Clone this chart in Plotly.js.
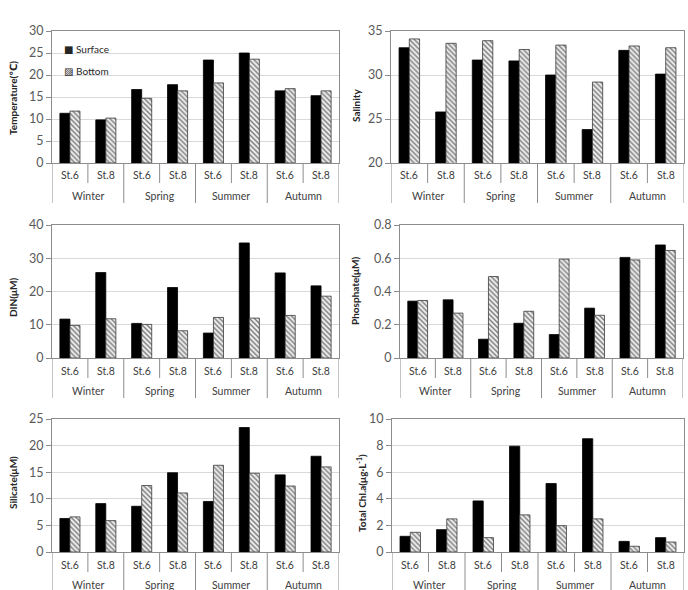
<!DOCTYPE html>
<html>
<head>
<meta charset="utf-8">
<script src="https://cdn.plot.ly/plotly-3.0.1.min.js"></script>
<style>
  html, body { margin: 0; padding: 0; background: #fff; }
  #chart { width: 688px; height: 590px; }
</style>
</head>
<body>
<div id="chart"></div>
<script>
// Station / season categories (St.6, St.8 for each season)
const seasons = ["Winter", "Spring", "Summer", "Autumn"];
const stations = ["St.6", "St.8", "St.6", "St.8", "St.6", "St.8", "St.6", "St.8"];
const seriesNames = ["Surface", "Bottom"];

// Water temperature (℃)
const tempSurface = [11.3, 9.8, 16.7, 17.8, 23.4, 25.0, 16.4, 15.3];
const tempBottom  = [11.8, 10.2, 14.7, 16.4, 18.2, 23.6, 16.9, 16.4];

// Salinity
const salSurface = [33.1, 25.8, 31.7, 31.6, 30.0, 23.8, 32.8, 30.1];
const salBottom  = [34.1, 33.6, 33.9, 32.9, 33.4, 29.2, 33.3, 33.1];

// Dissolved inorganic nitrogen (μM)
const dinSurface = [11.7, 25.7, 10.4, 21.2, 7.5, 34.6, 25.6, 21.7];
const dinBottom  = [9.8, 11.8, 10.1, 8.2, 12.2, 12.0, 12.8, 18.6];

// Phosphate (μM)
const phoSurface = [0.342, 0.350, 0.113, 0.209, 0.141, 0.300, 0.605, 0.680];
const phoBottom  = [0.346, 0.270, 0.490, 0.281, 0.595, 0.257, 0.590, 0.647];

// Silicate (μM)
const silSurface = [6.3, 9.1, 8.6, 14.9, 9.5, 23.4, 14.5, 18.0];
const silBottom  = [6.6, 5.9, 12.5, 11.1, 16.3, 14.8, 12.4, 16.0];

// Total chlorophyll a (μg·L⁻¹)
const chlSurface = [1.18, 1.68, 3.84, 7.96, 5.15, 8.52, 0.80, 1.08];
const chlBottom  = [1.48, 2.49, 1.08, 2.79, 1.98, 2.49, 0.43, 0.75];

// ---- layout helpers (pixel -> paper) ----
const W = 688, H = 590;
const px = x => x / W;
const py = y => 1 - y / H;

const FONT = "Lato, 'Open Sans', 'DejaVu Sans', sans-serif";
const AXIS_GRAY = "#8c8c8c";

const panels = [
  { surface: tempSurface, bottom: tempBottom, range: [0, 30], dtick: 5,
    title: "Temperature(℃)", box: [52, 339, 31, 163], titlePos: [13, 98], legend: true },
  { surface: salSurface, bottom: salBottom, range: [20, 35], dtick: 5,
    title: "Salinity", box: [391, 684, 31, 163], titlePos: [356, 106] },
  { surface: dinSurface, bottom: dinBottom, range: [0, 40], dtick: 10,
    title: "DIN(μM)", box: [52, 339, 225, 358], titlePos: [13, 297] },
  { surface: phoSurface, bottom: phoBottom, range: [0, 0.8], dtick: 0.2,
    title: "Phosphate(μM)", box: [400, 683, 225, 358], titlePos: [355, 291] },
  { surface: silSurface, bottom: silBottom, range: [0, 25], dtick: 5,
    title: "Silicate(μM)", box: [52, 339, 419, 552], titlePos: [13, 483] },
  { surface: chlSurface, bottom: chlBottom, range: [0, 10], dtick: 2,
    title: "Total Chl.a(μg·L<sup>-1</sup>)", box: [392, 684, 419, 552], titlePos: [361, 493] }
];

const xIdx = stations.map((_, i) => i);
const traces = [];
const layout = {
  width: W, height: H,
  margin: { l: 0, r: 0, t: 0, b: 0 },
  paper_bgcolor: "#ffffff",
  plot_bgcolor: "#ffffff",
  showlegend: false,
  barmode: "group",
  bargap: 0.44,
  bargroupgap: 0,
  font: { family: FONT, color: "#404040" },
  annotations: [],
  shapes: []
};

panels.forEach((p, k) => {
  const n = k + 1;
  const xa = "x" + (n === 1 ? "" : n);
  const ya = "y" + (n === 1 ? "" : n);
  const [x0, x1, yTop, yBot] = p.box;

  traces.push({
    type: "bar", name: seriesNames[0], x: xIdx, y: p.surface,
    xaxis: xa, yaxis: ya,
    marker: { color: "#000000", line: { color: "#000000", width: 0.8 } },
    hoverinfo: "y"
  });
  traces.push({
    type: "bar", name: seriesNames[1], x: xIdx, y: p.bottom,
    xaxis: xa, yaxis: ya,
    marker: {
      color: "#e6e6e6",
      line: { color: "#3a3a3a", width: 0.8 },
      pattern: { shape: "\\", fgcolor: "#7a7a7a", bgcolor: "#efefef", size: 3.5, solidity: 0.4 }
    },
    hoverinfo: "y"
  });

  layout["xaxis" + (n === 1 ? "" : n)] = {
    domain: [px(x0), px(x1)],
    anchor: ya,
    range: [-0.5, stations.length - 0.5],
    showticklabels: false,
    ticks: "",
    showgrid: false,
    zeroline: false,
    showline: true, mirror: true,
    linecolor: AXIS_GRAY, linewidth: 1,
    fixedrange: true
  };
  layout["yaxis" + (n === 1 ? "" : n)] = {
    domain: [py(yBot), py(yTop)],
    anchor: xa,
    range: p.range,
    dtick: p.dtick,
    tick0: p.range[0],
    ticks: "outside", ticklen: 5, tickwidth: 1, tickcolor: AXIS_GRAY,
    tickfont: { family: FONT, size: 12.5, color: "#595959" },
    showgrid: true, gridcolor: "#d9d9d9", gridwidth: 1,
    zeroline: false,
    showline: true, mirror: true,
    linecolor: AXIS_GRAY, linewidth: 1,
    fixedrange: true
  };

  // axis title (rotated)
  layout.annotations.push({
    text: "<b>" + p.title + "</b>",
    xref: "paper", yref: "paper",
    x: px(p.titlePos[0]), y: py(p.titlePos[1]),
    xanchor: "center", yanchor: "middle",
    textangle: -90, showarrow: false,
    font: { family: FONT, size: 10, color: "#262626" }
  });

  // two-level category labels under the axis
  stations.forEach((s, i) => {
    layout.annotations.push({
      text: s, xref: xa, yref: "paper",
      x: i, y: py(yBot + 12.5),
      xanchor: "center", yanchor: "middle", showarrow: false,
      font: { family: FONT, size: 10.5, color: "#404040" }
    });
  });
  seasons.forEach((s, i) => {
    layout.annotations.push({
      text: s, xref: xa, yref: "paper",
      x: 2 * i + 0.5, y: py(yBot + 33),
      xanchor: "center", yanchor: "middle", showarrow: false,
      font: { family: FONT, size: 10.5, color: "#404040" }
    });
  });

  // divider lines: short between stations, long between seasons
  for (let b = 0; b <= stations.length; b++) {
    const xb = b - 0.5;
    const len = (b % 2 === 0) ? 40 : 20;
    layout.shapes.push({
      type: "line", xref: xa, yref: "paper",
      x0: xb, x1: xb, y0: py(yBot), y1: py(yBot + len),
      line: { color: AXIS_GRAY, width: 1 }
    });
  }

  // in-plot key for the first panel
  if (p.legend) {
    const glyphs = ["■", "▨"];
    seriesNames.forEach((name, i) => {
      layout.annotations.push({
        text: glyphs[i] + " " + name,
        xref: "paper", yref: "paper",
        x: px(62), y: py(49 + i * 22),
        xanchor: "left", yanchor: "middle", showarrow: false,
        font: { family: FONT, size: 10, color: "#262626" }
      });
    });
  }
});

Plotly.newPlot("chart", traces, layout, { displayModeBar: false, staticPlot: true });
</script>
</body>
</html>
